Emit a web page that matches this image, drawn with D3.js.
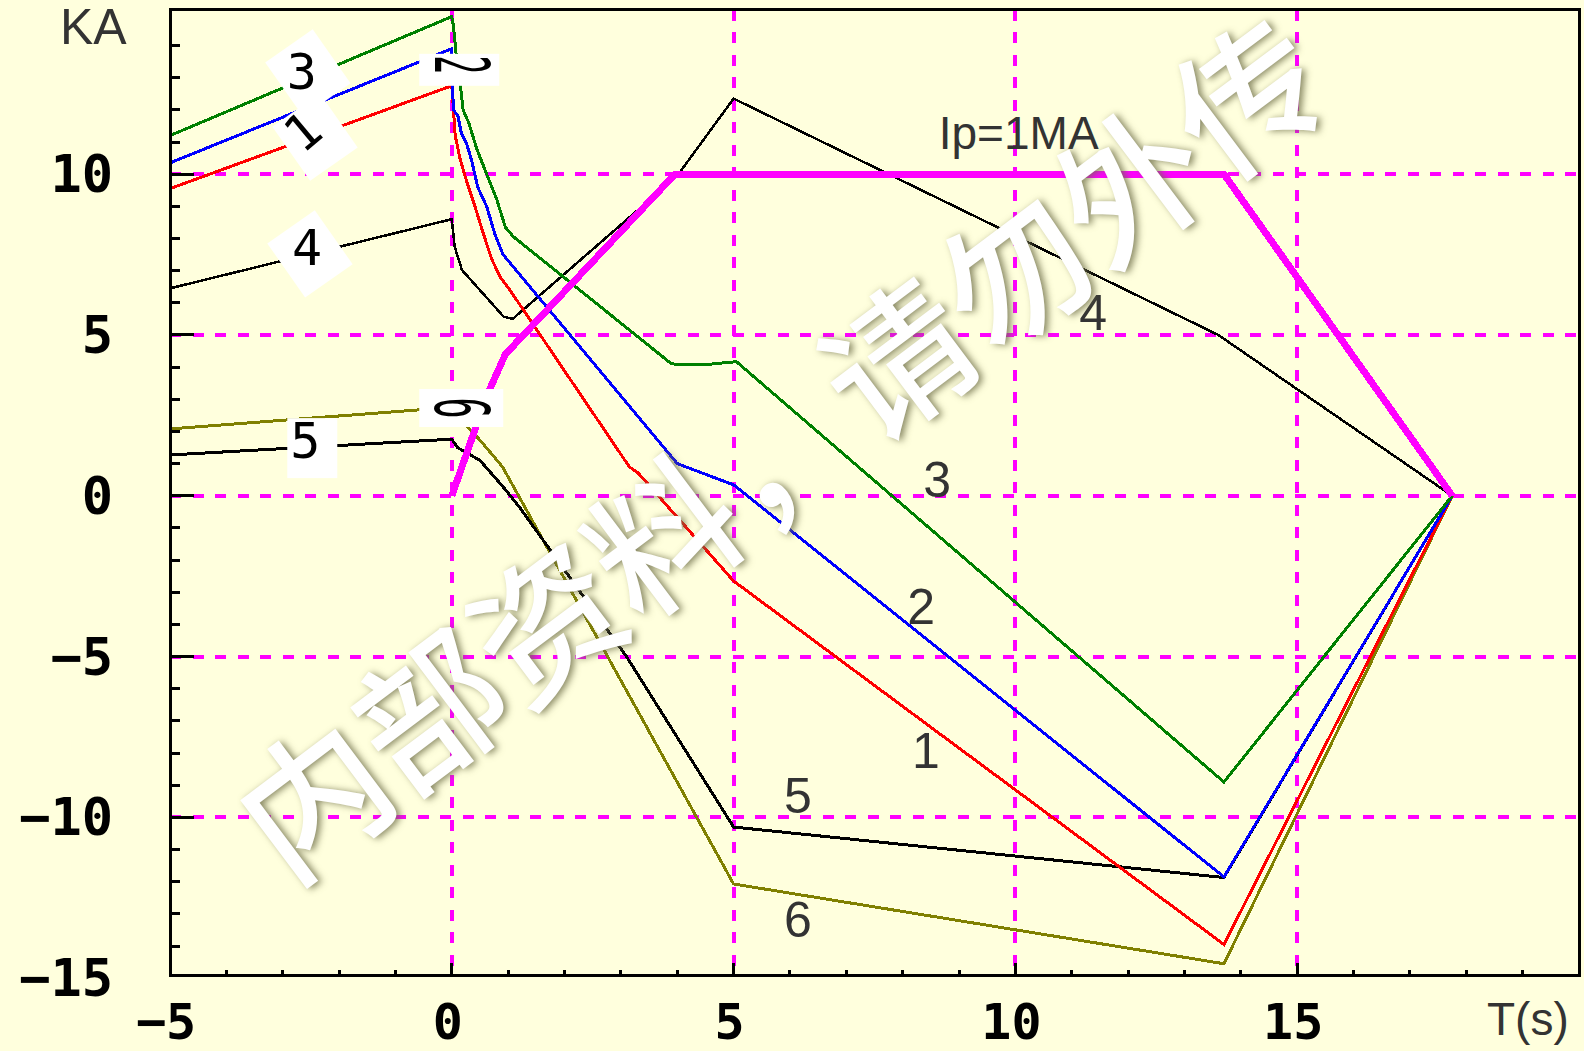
<!DOCTYPE html>
<html>
<head>
<meta charset="utf-8">
<script src="https://cdn.jsdelivr.net/npm/d3@7"></script>
<style>
  html, body { margin: 0; padding: 0; background: #FFFFDD; }
  #wrap { position: relative; width: 1584px; height: 1051px; overflow: hidden; }
  svg { display: block; }
  .wm {
    position: absolute;
    width: 146px; height: 100px; line-height: 100px;
    text-align: center; white-space: nowrap;
    font-family: 'Noto Sans CJK SC', sans-serif; font-weight: 500; font-size: 146px;
    color: #ffffff;
    text-shadow: 2.5px 3px 7px rgba(110, 110, 72, 0.8);
    transform-origin: 50% 50%;
  }
</style>
</head>
<body>
<div id="wrap"><svg id="chart" width="1584" height="1051"></svg></div>
<script>
// ---- axes ----
const xTickValues = [-5, 0, 5, 10, 15];
const xTickLabels = ["\u22125", "0", "5", "10", "15"];
const yTickValues = [10, 5, 0, -5, -10, -15];
const yTickLabels = ["10", "5", "0", "\u22125", "\u221210", "\u221215"];
const gridTimes = [0, 5, 10, 15];
const gridCurrents = [10, 5, 0, -5, -10];

// ---- coil currents (kA) versus time (s) ----
const seriesNames = ["1", "2", "3", "4", "5", "6"];
const seriesColors = ["#ff0000", "#0000ff", "#008000", "#000000", "#000000", "#808000"];

const time1 = [-5, 0, 0.03, 0.06, 0.15, 0.26, 0.41, 0.56, 0.71, 0.86, 1.03, 3.15, 3.3, 5, 13.7, 17.75];
const curr1 = [9.55, 12.75, 12.0, 11.2, 10.45, 9.8, 9.0, 8.15, 7.35, 6.8, 6.4, 0.9, 0.72, -2.65, -13.95, 0];

const time2 = [-5, 0, 0.01, 0.03, 0.11, 0.17, 0.26, 0.35, 0.46, 0.62, 0.76, 0.91, 4, 5, 13.7, 17.75];
const curr2 = [10.35, 13.9, 12.8, 12.0, 11.8, 11.27, 10.96, 10.44, 9.6, 8.99, 8.16, 7.5, 1.0, 0.34, -11.85, 0];

const time3 = [-5, 0, 0.03, 0.09, 0.15, 0.2, 0.3, 0.45, 0.62, 0.8, 0.95, 1.09, 3.9, 4.45, 5.05, 13.7, 17.75];
const curr3 = [11.2, 14.9, 14.6, 13.5, 12.8, 12.0, 11.6, 10.75, 10.0, 9.2, 8.35, 8.06, 4.1, 4.07, 4.17, -8.9, 0];

const time4 = [-5, 0, 0.05, 0.18, 0.92, 1.08, 4, 5, 13.6, 17.75];
const curr4 = [6.45, 8.6, 7.75, 7.02, 5.57, 5.5, 9.95, 12.35, 5.0, 0];

const time5 = [-5, 0, 0.1, 0.5, 0.9, 1.2, 3.1, 5, 13.7, 17.75];
const curr5 = [1.27, 1.76, 1.5, 1.1, 0.3, -0.35, -5.0, -10.3, -11.87, 0];

const time6 = [-5, 0, 0.1, 0.5, 0.9, 5, 13.7, 17.75];
const curr6 = [2.08, 2.75, 2.5, 1.73, 0.9, -12.07, -14.55, 0];

// plasma current scenario, Ip = 1 MA (drawn on the kA axis scaled by 1/100)
const timeIp = [0, 0.62, 0.95, 3.96, 13.7, 17.75];
const currIp = [0, 3.1, 4.4, 10, 10, 0];
const ipLabel = "Ip=1MA";

// curve numbers along the discharge
const curveLabelText = ["1", "2", "3", "4", "5", "6"];
const curveLabelTime = [8.41, 8.33, 8.61, 11.38, 6.14, 6.14];
const curveLabelCurr = [-8.45, -3.99, -0.04, 5.16, -9.86, -13.72];

// curve numbers on the pre-charge ramps
const tagText = ["3", "1", "4", "5", "2", "6"];
const tagTime = [-2.66, -2.64, -2.57, -2.60, 0.15, 0.15];
const tagCurr = [13.18, 11.31, 7.71, 1.70, 13.40, 2.73];

const watermark = "内部资料，请勿外传";

// ---- layout ----
const svg = d3.select("#chart");
const W = 1584, H = 1051;
const x = d3.scaleLinear().domain([-5, 20]).range([170, 1579]);
const y = d3.scaleLinear().domain([-14.9, 15.12]).range([975, 9.5]);

svg.append("rect").attr("width", W).attr("height", H).attr("fill", "#FFFFDD");

const x0 = x.range()[0], x1 = x.range()[1];
const yTop = y.range()[1], yBot = y.range()[0];

// dashed grid
const grid = svg.append("g")
  .attr("stroke", "#ff00ff").attr("stroke-width", 4)
  .attr("stroke-dasharray", "11 11.5").attr("shape-rendering", "crispEdges");
grid.selectAll("line.v").data(gridTimes).join("line").attr("class", "v")
  .attr("x1", d => x(d)).attr("x2", d => x(d)).attr("y1", yTop).attr("y2", yBot);
grid.selectAll("line.h").data(gridCurrents).join("line").attr("class", "h")
  .attr("x1", x0).attr("x2", x1).attr("y1", d => y(d)).attr("y2", d => y(d));

// ticks (inside the frame)
const yMinor = d3.range(-14, 15, 1);
const xMinor = d3.range(-4, 20, 1);
const ticks = svg.append("g").attr("stroke", "#000").attr("stroke-width", 3)
  .attr("shape-rendering", "crispEdges");
ticks.selectAll("line.ym").data(yMinor).join("line").attr("class", "ym")
  .attr("x1", x0).attr("x2", d => x0 + (d % 5 === 0 ? 24 : 10))
  .attr("y1", d => y(d)).attr("y2", d => y(d));
ticks.selectAll("line.xm").data(xMinor).join("line").attr("class", "xm")
  .attr("y1", yBot).attr("y2", d => yBot - (d % 5 === 0 ? 12 : 5))
  .attr("x1", d => x(d)).attr("x2", d => x(d));

// coil current curves
const line = d3.line().x(d => x(d[0])).y(d => y(d[1]));
const times = [time1, time2, time3, time4, time5, time6];
const currs = [curr1, curr2, curr3, curr4, curr5, curr6];
const widths = [3, 3, 3, 2.5, 3, 3];
const drawOrder = [5, 4, 3, 0, 1, 2];
const curves = svg.append("g").attr("fill", "none").attr("stroke-linejoin", "miter")
  .attr("shape-rendering", "crispEdges");
drawOrder.forEach(k => {
  curves.append("path")
    .attr("d", line(times[k].map((t, i) => [t, currs[k][i]])))
    .attr("stroke", seriesColors[k])
    .attr("stroke-width", widths[k]);
});

// Ip scenario
svg.append("path")
  .attr("d", line(timeIp.map((t, i) => [t, currIp[i]])))
  .attr("fill", "none").attr("stroke", "#ff00ff").attr("stroke-width", 7)
  .attr("stroke-linejoin", "miter").attr("shape-rendering", "crispEdges");

// frame
svg.append("rect")
  .attr("x", x0).attr("y", yTop).attr("width", x1 - x0).attr("height", yBot - yTop)
  .attr("fill", "none").attr("stroke", "#000").attr("stroke-width", 3)
  .attr("shape-rendering", "crispEdges");

// tick labels
const tickFont = "'DejaVu Sans Mono', monospace";
svg.append("g").selectAll("text").data(yTickValues).join("text")
  .attr("x", 113).attr("y", d => y(d))
  .attr("text-anchor", "end").attr("dominant-baseline", "central")
  .attr("font-family", tickFont).attr("font-weight", "bold").attr("font-size", 52)
  .attr("fill", "#000")
  .text((d, i) => yTickLabels[i]);
svg.append("g").selectAll("text").data(xTickValues).join("text")
  .attr("x", d => x(d) - 4).attr("y", 1039)
  .attr("text-anchor", "middle")
  .attr("font-family", tickFont).attr("font-weight", "bold").attr("font-size", 50)
  .attr("fill", "#000")
  .text((d, i) => xTickLabels[i]);

// axis titles
const sans = "'Liberation Sans', Arial, sans-serif";
svg.append("text").attr("x", 60).attr("y", 44)
  .attr("font-family", sans).attr("font-size", 50).attr("fill", "#333").text("KA");
svg.append("text").attr("x", 1487).attr("y", 1035)
  .attr("font-family", sans).attr("font-size", 46).attr("fill", "#333").text("T(s)");

// Ip label
svg.append("text").attr("x", x(8.64)).attr("y", y(10.78))
  .attr("font-family", sans).attr("font-size", 46).attr("fill", "#333").text(ipLabel);

// curve numbers
svg.append("g").selectAll("text").data(curveLabelText).join("text")
  .attr("x", (d, i) => x(curveLabelTime[i])).attr("y", (d, i) => y(curveLabelCurr[i]))
  .attr("text-anchor", "middle")
  .attr("font-family", sans).attr("font-size", 50).attr("fill", "#333")
  .text(d => d);

// boxed tags on the ramps
const tagBox = [[6, 1, 58, 66, -35], [12, 5, 58, 66, -35], [3, 6, 58, 66, -35],
                [7, 7, 50, 60, 0], [-1, 5, 80, 32, 0], [1, 0, 84, 38, 0]];
const tagGlyph = [[0, 1, 1], [-40, 1, 1], [0, 1, 1], [0, 1, 1], [90, 0.62, 1.5], [90, 0.7, 1.5]];
const tags = svg.append("g");
tagText.forEach((s, i) => {
  const cx = x(tagTime[i]), cy = y(tagCurr[i]);
  const b = tagBox[i];
  tags.append("rect")
    .attr("x", -b[2] / 2).attr("y", -b[3] / 2).attr("width", b[2]).attr("height", b[3])
    .attr("fill", "#ffffff")
    .attr("transform", `translate(${cx + b[0]},${cy + b[1]}) rotate(${b[4]})`);
  const g = tagGlyph[i];
  tags.append("text")
    .attr("transform", `translate(${cx},${cy}) rotate(${g[0]}) scale(${g[1]},${g[2]})`)
    .attr("text-anchor", "middle").attr("dominant-baseline", "central")
    .attr("font-family", tickFont).attr("font-size", 50).attr("fill", "#000")
    .text(s);
});

// watermark: one glyph per cell along a rising diagonal, laid over the plot
const wmChars = Array.from(watermark);
const wmAngle = -36.9, wmStep = 146, wmCx = 776, wmCy = 442;
const ca = Math.cos(wmAngle * Math.PI / 180), sa = Math.sin(wmAngle * Math.PI / 180);
d3.select("#wrap").selectAll("div.wm").data(wmChars).join("div")
  .attr("class", "wm")
  .style("left", (c, i) => (wmCx + (i - (wmChars.length - 1) / 2) * wmStep * ca - 73) + "px")
  .style("top", (c, i) => (wmCy + (i - (wmChars.length - 1) / 2) * wmStep * sa - 50) + "px")
  .style("transform", `rotate(${wmAngle}deg)`)
  .text(c => c);
</script>
</body>
</html>
